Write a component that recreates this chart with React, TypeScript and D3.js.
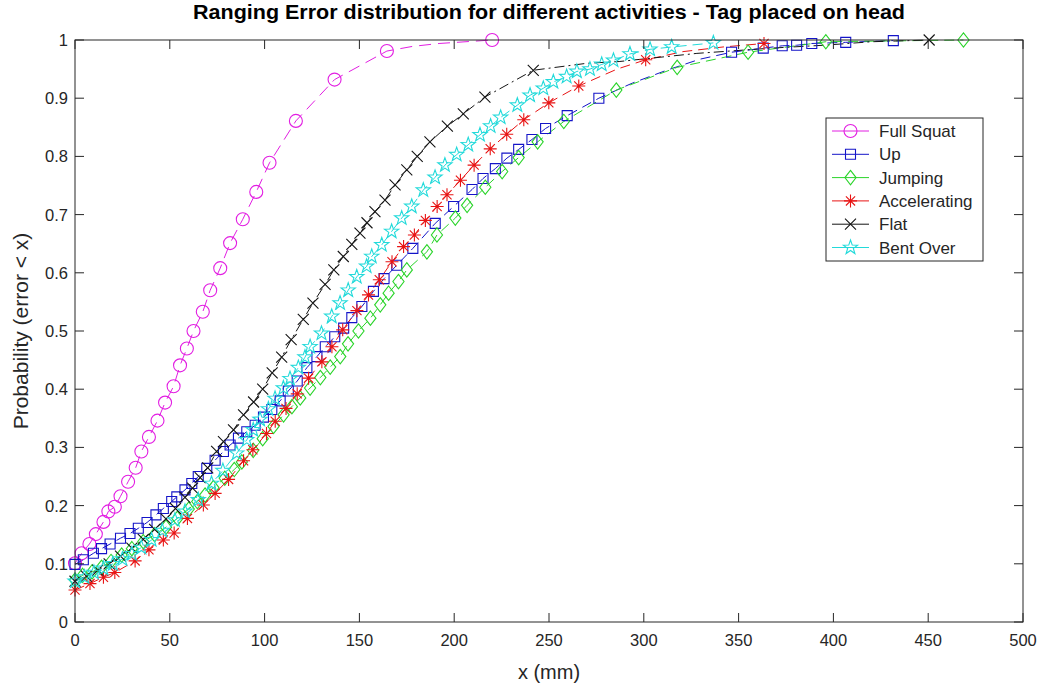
import React from 'react';
import * as d3 from 'd3';

// ---------- texts & ticks ----------
const titleText = 'Ranging Error distribution for different activities - Tag placed on head';
const xLabelText = 'x (mm)';
const yLabelText = 'Probability (error < x)';
const xTicks = [0, 50, 100, 150, 200, 250, 300, 350, 400, 450, 500];
const yTicks = [0, 0.1, 0.2, 0.3, 0.4, 0.5, 0.6, 0.7, 0.8, 0.9, 1];
const yTickLabels = ['0', '0.1', '0.2', '0.3', '0.4', '0.5', '0.6', '0.7', '0.8', '0.9', '1'];
const seriesNames = ['Full Squat', 'Up', 'Jumping', 'Accelerating', 'Flat', 'Bent Over'];

// ---------- data (marker points + extra line-only points) ----------
const fullSquatX = [0, 3.5, 7.6, 11, 15, 17.6, 21, 24, 28, 32, 35, 39, 43.5, 47.5, 52, 55.4, 59, 62.5, 67.4, 71.3, 76.6, 81.8, 88.5, 95.6, 102.6, 116.5, 136.9, 164.5, 220];
const fullSquatY = [0.101, 0.118, 0.134, 0.151, 0.172, 0.19, 0.198, 0.216, 0.241, 0.265, 0.293, 0.318, 0.346, 0.377, 0.405, 0.441, 0.47, 0.5, 0.533, 0.57, 0.608, 0.651, 0.692, 0.739, 0.789, 0.861, 0.932, 0.981, 1.0];
const fullSquatLineX = [178, 192];
const fullSquatLineY = [0.989, 0.994];

const upX = [0, 4.4, 9.7, 14, 18.5, 24, 29, 33.4, 38, 42.7, 46.6, 51, 53.7, 58, 61.6, 65, 69.5, 73.9, 78.3, 81.8, 86.2, 90.6, 95, 99.4, 103.8, 108.2, 112.5, 117.2, 122.3, 127.6, 132, 137, 141.7, 146, 151.3, 157.4, 163, 169.7, 178.2, 190, 199.7, 209.4, 215.2, 221.7, 227.8, 234, 241, 248.2, 259.6, 276.3, 346.3, 363, 373, 380.6, 388.6, 406.5, 431.6];
const upY = [0.099, 0.107, 0.118, 0.126, 0.134, 0.144, 0.152, 0.161, 0.171, 0.184, 0.195, 0.207, 0.215, 0.227, 0.238, 0.25, 0.264, 0.278, 0.293, 0.304, 0.316, 0.327, 0.338, 0.352, 0.365, 0.38, 0.397, 0.414, 0.437, 0.456, 0.473, 0.49, 0.505, 0.523, 0.542, 0.568, 0.59, 0.613, 0.642, 0.685, 0.714, 0.743, 0.762, 0.779, 0.797, 0.812, 0.829, 0.848, 0.87, 0.9, 0.979, 0.986, 0.99, 0.991, 0.994, 0.996, 0.999];
const upLineX = [294, 312, 329.6];
const upLineY = [0.926, 0.948, 0.967];

const jumpingX = [0, 4, 9, 14, 19, 24.6, 30, 36, 42, 48, 54, 60, 64.5, 68.6, 73, 79, 84, 88, 94, 99, 104.7, 110, 114.4, 118.8, 124, 129.4, 134.6, 139.9, 144, 149.5, 155.8, 161, 165.4, 170.6, 175, 185.6, 190.9, 200.6, 206.8, 216.4, 225.3, 234, 244, 257.8, 285.5, 317.6, 355, 396, 468.6];
const jumpingY = [0.072, 0.08, 0.086, 0.094, 0.104, 0.115, 0.126, 0.138, 0.15, 0.163, 0.178, 0.194, 0.207, 0.218, 0.231, 0.247, 0.262, 0.275, 0.295, 0.315, 0.336, 0.356, 0.37, 0.385, 0.402, 0.42, 0.438, 0.456, 0.478, 0.5, 0.522, 0.545, 0.565, 0.585, 0.605, 0.636, 0.665, 0.694, 0.716, 0.747, 0.774, 0.798, 0.825, 0.86, 0.914, 0.953, 0.979, 0.997, 1.0];
const jumpingLineX: number[] = [];
const jumpingLineY: number[] = [];

const accelX = [0, 7.9, 15, 21, 31.7, 39, 46.6, 52.3, 59.3, 67.7, 73.9, 81, 88.9, 93.8, 101, 105.6, 111.3, 117.2, 123.2, 130.2, 135.5, 141.2, 148.7, 154.8, 160.5, 167.2, 173.3, 179, 184.8, 191, 196.2, 203.3, 210.5, 219, 227.7, 236.7, 249.9, 265.7, 301, 363.4];
const accelY = [0.055, 0.066, 0.077, 0.085, 0.105, 0.124, 0.141, 0.153, 0.178, 0.201, 0.221, 0.245, 0.277, 0.296, 0.324, 0.345, 0.367, 0.392, 0.419, 0.447, 0.473, 0.502, 0.535, 0.562, 0.588, 0.619, 0.645, 0.665, 0.69, 0.714, 0.734, 0.759, 0.785, 0.813, 0.838, 0.863, 0.892, 0.921, 0.966, 0.994];
const accelLineX = [285.9, 320.6, 341.8];
const accelLineY = [0.95, 0.98, 0.988];

const flatX = [0, 6, 12, 18, 24, 30, 36, 42, 48, 53, 58, 62, 66, 70, 74.7, 78.3, 83.6, 88.9, 94.2, 99, 104, 109, 114, 120.4, 125.5, 131.9, 136.5, 141.5, 146, 150.3, 154, 158.2, 163.5, 168.8, 175, 180.5, 187.2, 196.4, 204.8, 216.2, 241.7, 450.5];
const flatY = [0.07, 0.079, 0.089, 0.1, 0.113, 0.127, 0.142, 0.159, 0.177, 0.195, 0.214, 0.23, 0.248, 0.265, 0.293, 0.31, 0.33, 0.356, 0.378, 0.4, 0.428, 0.455, 0.485, 0.52, 0.548, 0.58, 0.605, 0.628, 0.649, 0.668, 0.686, 0.705, 0.725, 0.751, 0.777, 0.8, 0.825, 0.852, 0.873, 0.902, 0.948, 1.0];
const flatLineX = [270, 287, 328, 367, 395, 420];
const flatLineY = [0.96, 0.963, 0.977, 0.986, 0.991, 0.997];

const bentX = [0, 5, 10, 15, 20, 25, 30, 35, 40.4, 46, 52.7, 58, 65, 72, 78, 85.3, 90.6, 94, 97.6, 102, 105.5, 109.9, 113.4, 117.8, 121.3, 124, 130, 135.4, 139.8, 144.1, 148.6, 153.8, 156.5, 161.8, 167, 172.3, 177.6, 183.7, 189.9, 195.1, 201.3, 207.4, 213.6, 219.2, 224.5, 233.3, 240, 247, 252.3, 259.3, 264.7, 271.6, 277.8, 284, 292.7, 303.3, 314.7, 336.7];
const bentY = [0.07, 0.077, 0.085, 0.092, 0.1, 0.108, 0.117, 0.128, 0.141, 0.157, 0.175, 0.19, 0.21, 0.238, 0.26, 0.29, 0.313, 0.33, 0.348, 0.366, 0.384, 0.402, 0.418, 0.437, 0.455, 0.473, 0.496, 0.525, 0.548, 0.57, 0.593, 0.611, 0.628, 0.648, 0.671, 0.694, 0.714, 0.742, 0.764, 0.785, 0.803, 0.82, 0.837, 0.852, 0.867, 0.888, 0.905, 0.917, 0.928, 0.937, 0.946, 0.95, 0.958, 0.965, 0.976, 0.984, 0.988, 0.995];
const bentLineX: number[] = [];
const bentLineY: number[] = [];

// ---------- styling ----------
const AX = '#262626';
const FONT = 'Liberation Sans, Arial, Helvetica, sans-serif';

type Series = {
  name: string; xs: number[]; ys: number[]; lx: number[]; ly: number[];
  color: string; marker: string; dash: string;
};

const series: Series[] = [
  { name: seriesNames[0], xs: fullSquatX, ys: fullSquatY, lx: fullSquatLineX, ly: fullSquatLineY, color: '#e21ee2', marker: 'circle', dash: '12,7' },
  { name: seriesNames[1], xs: upX, ys: upY, lx: upLineX, ly: upLineY, color: '#1414c8', marker: 'square', dash: '10,6' },
  { name: seriesNames[2], xs: jumpingX, ys: jumpingY, lx: jumpingLineX, ly: jumpingLineY, color: '#2ad42a', marker: 'diamond', dash: '10,6' },
  { name: seriesNames[3], xs: accelX, ys: accelY, lx: accelLineX, ly: accelLineY, color: '#e81414', marker: 'asterisk', dash: '10,6' },
  { name: seriesNames[4], xs: flatX, ys: flatY, lx: flatLineX, ly: flatLineY, color: '#141414', marker: 'x', dash: '10,4,2,4' },
  { name: seriesNames[5], xs: bentX, ys: bentY, lx: bentLineX, ly: bentLineY, color: '#22dada', marker: 'star', dash: '10,6' },
];

function starPath(R: number, r: number): string {
  const pts: string[] = [];
  for (let i = 0; i < 10; i++) {
    const a = -Math.PI / 2 + (i * Math.PI) / 5;
    const rad = i % 2 === 0 ? R : r;
    pts.push(`${(rad * Math.cos(a)).toFixed(2)},${(rad * Math.sin(a)).toFixed(2)}`);
  }
  return 'M' + pts.join('L') + 'Z';
}

const markerPaths: Record<string, string> = {
  circle: d3.symbol(d3.symbolCircle, Math.PI * 6.5 * 6.5)() as string,
  square: 'M-5,-5H5V5H-5Z',
  diamond: 'M0,-7.2L5.6,0L0,7.2L-5.6,0Z',
  asterisk: 'M0,-6.5V6.5M-6.5,0H6.5M-4.6,-4.6L4.6,4.6M-4.6,4.6L4.6,-4.6',
  x: 'M-5.5,-5.5L5.5,5.5M-5.5,5.5L5.5,-5.5',
  star: starPath(7.5, 3),
};

export default function App() {
  const W = 1044;
  const H = 684;
  const x = d3.scaleLinear().domain([0, 500]).range([75, 1023]);
  const y = d3.scaleLinear().domain([0, 1]).range([622, 40]);
  const [x0, x1] = x.range();
  const [y0, y1] = y.range();
  const tickLen = 9;

  const line = d3.line<[number, number]>().x(d => x(d[0])).y(d => y(d[1]));

  const legend = { left: 826, right: 983, top: 118, bottom: 261, row0: 131, step: 23.3 };

  return (
    <svg width={W} height={H} viewBox={`0 0 ${W} ${H}`}
      style={{ position: 'absolute', left: 0, top: 0, background: '#fff', fontFamily: FONT }}>
      <rect x={0} y={0} width={W} height={H} fill="#fff" />

      {/* series lines */}
      {series.map(s => {
        const pts: [number, number][] = s.xs.map((v, i) => [v, s.ys[i]] as [number, number])
          .concat(s.lx.map((v, i) => [v, s.ly[i]] as [number, number]))
          .sort((a, b) => a[0] - b[0]);
        return (
          <path key={s.name + '-line'} d={line(pts) || ''} fill="none" stroke={s.color}
            strokeWidth={1} strokeDasharray={s.dash} />
        );
      })}
      {/* markers */}
      {series.map(s => (
        <g key={s.name + '-m'} fill="none" stroke={s.color} strokeWidth={1.1}>
          {s.xs.map((v, i) => (
            <path key={i} d={markerPaths[s.marker]} transform={`translate(${x(v)},${y(s.ys[i])})`} />
          ))}
        </g>
      ))}

      {/* axes box */}
      <rect x={x0} y={y1} width={x1 - x0} height={y0 - y1} fill="none" stroke={AX} strokeWidth={1} />
      {xTicks.map(t => (
        <g key={'xt' + t} stroke={AX} strokeWidth={1}>
          <line x1={x(t)} x2={x(t)} y1={y0} y2={y0 - tickLen} />
          <line x1={x(t)} x2={x(t)} y1={y1} y2={y1 + tickLen} />
        </g>
      ))}
      {yTicks.map(t => (
        <g key={'yt' + t} stroke={AX} strokeWidth={1}>
          <line x1={x0} x2={x0 + tickLen} y1={y(t)} y2={y(t)} />
          <line x1={x1} x2={x1 - tickLen} y1={y(t)} y2={y(t)} />
        </g>
      ))}
      {xTicks.map(t => (
        <text key={'xl' + t} x={x(t)} y={646} textAnchor="middle" fontSize={16.5} fill={AX}>{t}</text>
      ))}
      {yTicks.map((t, i) => (
        <text key={'yl' + t} x={68} y={y(t) + 6} textAnchor="end" fontSize={16.5} fill={AX}>{yTickLabels[i]}</text>
      ))}

      {/* labels */}
      <text x={549} y={679} textAnchor="middle" fontSize={20} fill={AX}>{xLabelText}</text>
      <text transform={`translate(28,331) rotate(-90)`} textAnchor="middle" fontSize={21} fill={AX}>{yLabelText}</text>
      <text x={549} y={19} textAnchor="middle" fontSize={19.5} fontWeight="bold" fill="#000"
        textLength={712} lengthAdjust="spacingAndGlyphs">{titleText}</text>

      {/* legend */}
      <rect x={legend.left} y={legend.top} width={legend.right - legend.left} height={legend.bottom - legend.top}
        fill="#fff" stroke={AX} strokeWidth={1} />
      {series.map((s, i) => {
        const cy = legend.row0 + i * legend.step;
        return (
          <g key={'lg' + i}>
            <line x1={832} x2={869} y1={cy} y2={cy} stroke={s.color} strokeWidth={1} />
            <path d={markerPaths[s.marker]} transform={`translate(850.5,${cy})`} fill="none" stroke={s.color} strokeWidth={1.1} />
            <text x={879} y={cy + 6} fontSize={17} fill={AX}>{s.name}</text>
          </g>
        );
      })}
    </svg>
  );
}
